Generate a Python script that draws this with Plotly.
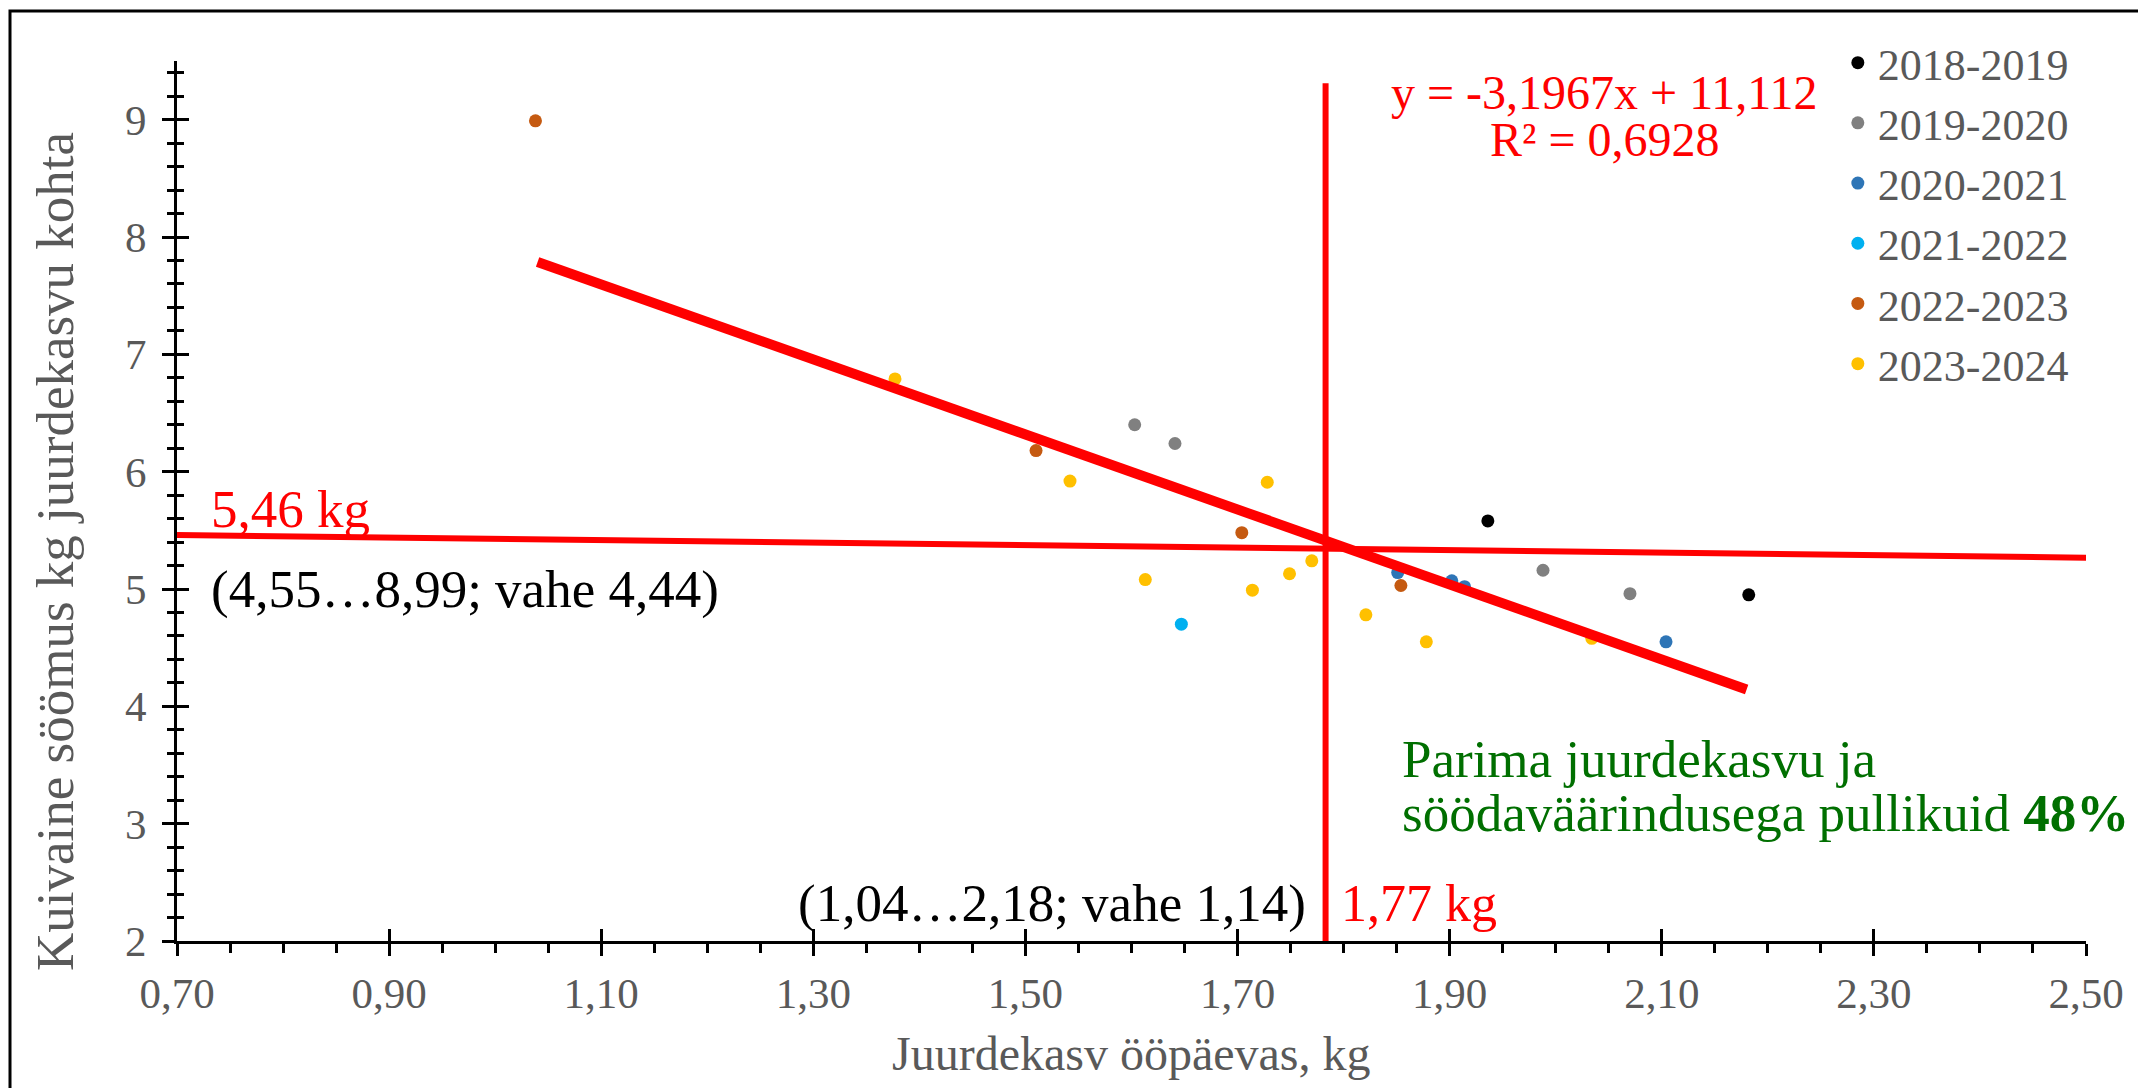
import plotly.graph_objects as go

# ---- data ----
series_names = ["2018-2019", "2019-2020", "2020-2021", "2021-2022", "2022-2023", "2023-2024"]
series_colors = ["#000000", "#808080", "#2e75b6", "#00b0f0", "#c55a11", "#ffc000"]

x_2018 = [1.936, 2.182]
y_2018 = [5.58, 4.95]
x_2019 = [1.603, 1.641, 1.988, 2.070]
y_2019 = [6.40, 6.24, 5.16, 4.96]
x_2020 = [1.851, 1.902, 1.914, 2.104]
y_2020 = [5.14, 5.07, 5.02, 4.55]
x_2021 = [1.647]
y_2021 = [4.70]
x_2022 = [1.038, 1.510, 1.704, 1.854]
y_2022 = [8.99, 6.18, 5.48, 5.03]
x_2023 = [1.377, 1.542, 1.613, 1.714, 1.728, 1.749, 1.770, 1.821, 1.878, 2.034]
y_2023 = [6.79, 5.92, 5.08, 4.99, 5.91, 5.13, 5.24, 4.78, 4.55, 4.58]

xs = [x_2018, x_2019, x_2020, x_2021, x_2022, x_2023]
ys = [y_2018, y_2019, y_2020, y_2021, y_2022, y_2023]

# trend line y = -3,1967x + 11,112 over the data range
trend_slope = -3.1967
trend_intercept = 11.112
trend_x = [1.04, 2.18]
trend_y = [trend_slope * v + trend_intercept for v in trend_x]

# reference (mean) lines as drawn
hline_x = [0.70, 2.51]
hline_y = [5.46, 5.266]
vline_x = [1.783, 1.783]
vline_y = [2.0, 9.31]

x_ticks = [0.7, 0.9, 1.1, 1.3, 1.5, 1.7, 1.9, 2.1, 2.3, 2.5]
x_ticklabels = ["0,70", "0,90", "1,10", "1,30", "1,50", "1,70", "1,90", "2,10", "2,30", "2,50"]
y_ticks = [2, 3, 4, 5, 6, 7, 8, 9]

FONT = "Liberation Serif, Times New Roman, serif"
GRAY = "#595959"
RED = "#ff0000"
GREEN = "#006f00"

fig = go.Figure()

for name, color, xv, yv in zip(series_names, series_colors, xs, ys):
    fig.add_trace(go.Scatter(
        x=xv, y=yv, mode="markers", name=name,
        marker=dict(color=color, size=13, line=dict(width=0)),
        cliponaxis=False,
    ))

fig.add_trace(go.Scatter(x=hline_x, y=hline_y, mode="lines", showlegend=False,
                         line=dict(color=RED, width=6), hoverinfo="skip"))
fig.add_trace(go.Scatter(x=vline_x, y=vline_y, mode="lines", showlegend=False,
                         line=dict(color=RED, width=6), hoverinfo="skip"))
fig.add_trace(go.Scatter(x=trend_x, y=trend_y, mode="lines", showlegend=False,
                         line=dict(color=RED, width=10), hoverinfo="skip"))

# dummy traces to activate overlay axes (for crossing tick marks)
fig.add_trace(go.Scatter(x=[], y=[], xaxis="x2", yaxis="y", showlegend=False))
fig.add_trace(go.Scatter(x=[], y=[], xaxis="x", yaxis="y2", showlegend=False))

axis_common = dict(showgrid=False, zeroline=False, tickcolor="black", tickwidth=3)

fig.update_layout(
    width=2138, height=1088,
    margin=dict(l=177, r=52, t=61, b=147),
    paper_bgcolor="white", plot_bgcolor="white",
    separators=", ",
    font=dict(family=FONT, color=GRAY),
    showlegend=True,
    legend=dict(
        x=0.870, y=1.038, xanchor="left", yanchor="top",
        font=dict(family=FONT, size=44, color=GRAY),
        bgcolor="rgba(0,0,0,0)", itemwidth=30, tracegroupgap=0,
    ),
    xaxis=dict(
        range=[0.7, 2.5], tickvals=x_ticks, ticktext=x_ticklabels,
        showline=True, linecolor="black", linewidth=3,
        ticks="outside", ticklen=12, ticklabelstandoff=0,
        tickfont=dict(family=FONT, size=43, color=GRAY),
        minor=dict(dtick=0.05, ticks="outside", ticklen=9, tickcolor="black", tickwidth=3),
        **axis_common,
    ),
    xaxis2=dict(
        range=[0.7, 2.5], overlaying="x", anchor="y", tickvals=x_ticks,
        showline=False, showticklabels=False, ticks="inside", ticklen=12,
        **axis_common,
    ),
    yaxis=dict(
        range=[2, 9.5], tickvals=y_ticks,
        showline=True, linecolor="black", linewidth=3,
        ticks="outside", ticklen=12, ticklabelstandoff=7,
        tickfont=dict(family=FONT, size=43, color=GRAY),
        minor=dict(dtick=0.2, ticks="outside", ticklen=7, tickcolor="black", tickwidth=3),
        **axis_common,
    ),
    yaxis2=dict(
        range=[2, 9.5], overlaying="y", anchor="x", tickvals=y_ticks,
        showline=False, showticklabels=False, ticks="inside", ticklen=12,
        minor=dict(dtick=0.2, ticks="inside", ticklen=7, tickcolor="black", tickwidth=3),
        **axis_common,
    ),
)

ann = []
# axis titles
ann.append(dict(text="Juurdekasv ööpäevas, kg", xref="paper", yref="paper", x=0.5, y=-0.128,
                xanchor="center", yanchor="middle", showarrow=False,
                font=dict(family=FONT, size=48, color=GRAY)))
ann.append(dict(text="Kuivaine söömus kg juurdekasvu kohta", xref="paper", yref="paper",
                x=-0.064, y=0.443, textangle=-90, xanchor="center", yanchor="middle",
                showarrow=False, font=dict(family=FONT, size=53, color=GRAY)))
# equation
ann.append(dict(text="y = -3,1967x + 11,112", x=2.046, y=9.228, xanchor="center", yanchor="middle",
                showarrow=False, font=dict(family=FONT, size=48, color=RED)))
ann.append(dict(text="R² = 0,6928", x=2.046, y=8.827, xanchor="center", yanchor="middle",
                showarrow=False, font=dict(family=FONT, size=48, color=RED)))
# horizontal line labels
ann.append(dict(text="5,46 kg", x=0.730, y=5.68, xanchor="left", yanchor="middle",
                showarrow=False, font=dict(family=FONT, size=53, color=RED)))
ann.append(dict(text="(4,55…8,99; vahe 4,44)", x=0.730, y=5.00, xanchor="left", yanchor="middle",
                showarrow=False, font=dict(family=FONT, size=53, color="black")))
# vertical line labels
ann.append(dict(text="(1,04…2,18; vahe 1,14)", x=1.766, y=2.32, xanchor="right", yanchor="middle",
                showarrow=False, font=dict(family=FONT, size=53, color="black")))
ann.append(dict(text="1,77 kg", x=1.796, y=2.32, xanchor="left", yanchor="middle",
                showarrow=False, font=dict(family=FONT, size=52, color=RED)))
# green note
ann.append(dict(text="Parima juurdekasvu ja", x=1.853, y=3.55, xanchor="left", yanchor="middle",
                showarrow=False, font=dict(family=FONT, size=53, color=GREEN)))
ann.append(dict(text="söödaväärindusega pullikuid <b>48%</b>", x=1.853, y=3.09, xanchor="left",
                yanchor="middle", showarrow=False, font=dict(family=FONT, size=53, color=GREEN)))
fig.update_layout(annotations=ann)

# outer frame (only its top and left edges fall inside the picture)
fig.add_shape(type="rect", xref="paper", yref="paper",
              x0=(10 - 177) / 1909, x1=1.2, y0=-0.5, y1=(941 - 11) / 880,
              line=dict(color="black", width=3), fillcolor="rgba(0,0,0,0)", layer="below")

fig.write_html("out.html")
